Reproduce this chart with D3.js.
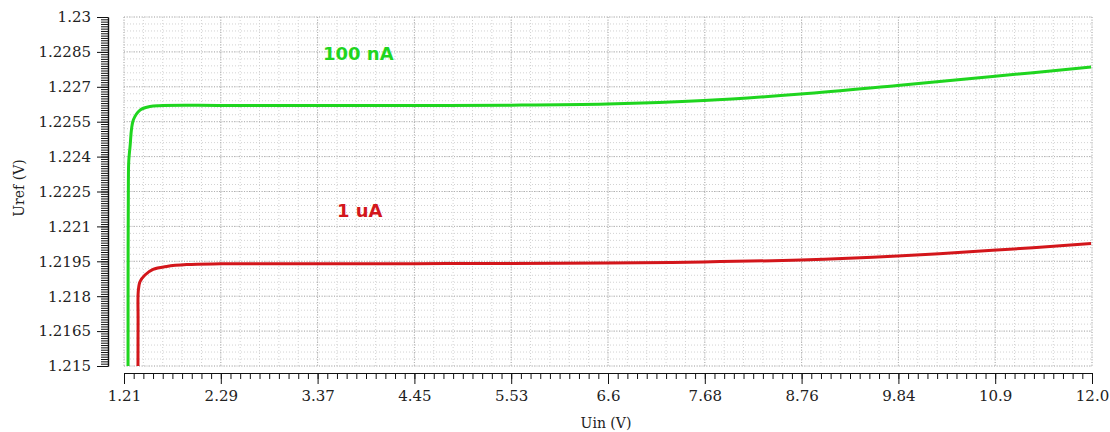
<!DOCTYPE html>
<html>
<head>
<meta charset="utf-8">
<script src="https://d3js.org/d3.v7.min.js"></script>
<style>
  body { margin: 0; background: #fff; }
  .tick text { font-family: "DejaVu Serif", serif; font-size: 15px; fill: #222; }
  .axis path, .axis line { stroke: #111; }
</style>
</head>
<body>
<div id="chart"></div>
<script>
// Uref vs Uin, two bias currents
var uin100n = [1.255, 1.256, 1.259, 1.263, 1.277, 1.314, 1.389, 1.50, 1.60, 2.29, 3.37, 4.45, 5.53, 6.60, 7.68, 8.76, 9.84, 10.9, 12.0];
var uref100n = [1.2150, 1.2200, 1.2230, 1.2238, 1.22441, 1.22557, 1.2260, 1.22615, 1.22619, 1.22620, 1.22620, 1.22620, 1.22621, 1.22626, 1.22641, 1.22669, 1.22706, 1.22744, 1.22785];

var uin1u = [1.366, 1.367, 1.369, 1.388, 1.444, 1.534, 1.686, 1.91, 2.29, 3.37, 4.45, 5.53, 6.60, 7.68, 8.76, 9.84, 10.9, 12.0];
var uref1u = [1.2150, 1.2170, 1.2182, 1.21862, 1.21891, 1.21915, 1.21928, 1.21936, 1.21939, 1.21940, 1.21940, 1.21941, 1.21943, 1.21947, 1.21956, 1.21973, 1.21997, 1.22026];

var xTickLabels = ["1.21", "2.29", "3.37", "4.45", "5.53", "6.6", "7.68", "8.76", "9.84", "10.9", "12.0"];
var yTickLabels = ["1.215", "1.2165", "1.218", "1.2195", "1.221", "1.2225", "1.224", "1.2255", "1.227", "1.2285", "1.23"];

var width = 1110, height = 432;
var plotL = 124, plotR = 1092, plotT = 17, plotB = 366;

var svg = d3.select("#chart").append("svg")
  .attr("width", width)
  .attr("height", height);

var x = d3.scaleLinear().domain([1.21, 12.01]).range([plotL, plotR]);
var y = d3.scaleLinear().domain([1.215, 1.23]).range([plotB, plotT]);

var xMajor = xTickLabels.map(function(d, i) { return 1.21 + i * 1.08; });
var yMajor = yTickLabels.map(function(d, i) { return 1.215 + i * 0.0015; });

// grid: 5 subdivisions per major step
var xGridMinor = d3.range(51).map(function(i) { return 1.21 + i * 1.08 / 5; });
var yGridMinor = d3.range(51).map(function(i) { return 1.215 + i * 0.0003; });

var grid = svg.append("g");
grid.selectAll(".vmin").data(xGridMinor).enter().append("line")
  .attr("x1", function(d) { return x(d); }).attr("x2", function(d) { return x(d); })
  .attr("y1", plotT).attr("y2", plotB)
  .attr("stroke", "#d2d2d2").attr("stroke-dasharray", "1,2");
grid.selectAll(".hmin").data(yGridMinor).enter().append("line")
  .attr("x1", plotL).attr("x2", plotR)
  .attr("y1", function(d) { return y(d); }).attr("y2", function(d) { return y(d); })
  .attr("stroke", "#d2d2d2").attr("stroke-dasharray", "1,2");
grid.selectAll(".vmaj").data(xMajor).enter().append("line")
  .attr("x1", function(d) { return x(d); }).attr("x2", function(d) { return x(d); })
  .attr("y1", plotT).attr("y2", plotB)
  .attr("stroke", "#b0b0b0").attr("stroke-dasharray", "1,1.5");
grid.selectAll(".hmaj").data(yMajor).enter().append("line")
  .attr("x1", plotL).attr("x2", plotR)
  .attr("y1", function(d) { return y(d); }).attr("y2", function(d) { return y(d); })
  .attr("stroke", "#b0b0b0").attr("stroke-dasharray", "1,1.5");

// axes
var xMinor = d3.range(101).map(function(i) { return 1.21 + i * 0.108; });
var yMinor = d3.range(151).map(function(i) { return 1.215 + i * 0.0001; });

svg.append("g").attr("class", "axis")
  .attr("transform", "translate(0,373)")
  .call(d3.axisBottom(x).tickValues(xMinor).tickSize(6).tickFormat("").tickSizeOuter(0));
svg.append("g").attr("class", "axis")
  .attr("transform", "translate(0,373)")
  .call(d3.axisBottom(x).tickValues(xMajor).tickSize(11).tickSizeOuter(0)
    .tickFormat(function(d, i) { return xTickLabels[i]; }))
  .selectAll("text").attr("dy", "0.95em");

svg.append("g").attr("class", "axis")
  .attr("transform", "translate(108,0)")
  .call(d3.axisLeft(y).tickValues(yMinor).tickSize(7).tickFormat("").tickSizeOuter(0));
svg.append("g").attr("class", "axis")
  .attr("transform", "translate(108,0)")
  .call(d3.axisLeft(y).tickValues(yMajor).tickSize(11).tickSizeOuter(0)
    .tickFormat(function(d, i) { return yTickLabels[i]; }))
  .selectAll("text").attr("x", -17);

svg.selectAll(".axis path").attr("stroke-width", 1.2);

// axis titles
svg.append("text")
  .attr("x", 606).attr("y", 428)
  .attr("text-anchor", "middle")
  .style("font-family", "DejaVu Serif, serif").style("font-size", "14px").style("fill", "#222")
  .text("Uin (V)");
svg.append("text")
  .attr("transform", "translate(24,188) rotate(-90)")
  .attr("text-anchor", "middle")
  .style("font-family", "DejaVu Serif, serif").style("font-size", "14px").style("fill", "#222")
  .text("Uref (V)");

// curves
svg.append("clipPath").attr("id", "plot")
  .append("rect").attr("x", plotL).attr("y", plotT).attr("width", plotR - plotL).attr("height", plotB - plotT);

var line = d3.line()
  .x(function(d) { return x(d[0]); })
  .y(function(d) { return y(d[1]); })
  .curve(d3.curveCatmullRom.alpha(0.5));

var series = [
  { u: uin100n, v: uref100n, color: "#1fd51f" },
  { u: uin1u, v: uref1u, color: "#d3161b" }
];

series.forEach(function(s) {
  var pts = s.u.map(function(d, i) { return [d, s.v[i]]; });
  svg.append("path")
    .attr("clip-path", "url(#plot)")
    .attr("d", line(pts))
    .attr("fill", "none")
    .attr("stroke", s.color)
    .attr("stroke-width", 3);
});

// curve labels
svg.append("text")
  .attr("x", 323).attr("y", 60)
  .style("font-family", "DejaVu Sans, sans-serif").style("font-weight", "bold").style("font-size", "18px")
  .style("fill", "#1fd51f")
  .text("100 nA");
svg.append("text")
  .attr("x", 337).attr("y", 217)
  .style("font-family", "DejaVu Sans, sans-serif").style("font-weight", "bold").style("font-size", "18px")
  .style("fill", "#d3161b")
  .text("1 uA");
</script>
</body>
</html>
